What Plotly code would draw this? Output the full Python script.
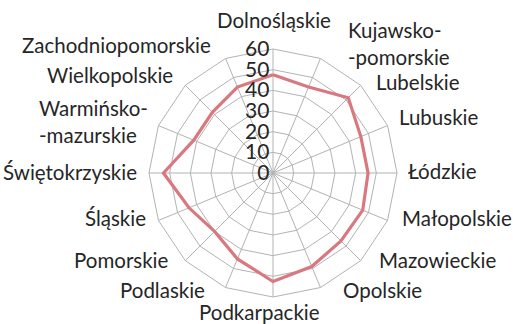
import plotly.graph_objects as go

# Voivodeships, clockwise from the top
regions = [
    "Dolnośląskie", "Kujawsko-<br>-pomorskie", "Lubelskie", "Lubuskie", "Łódzkie",
    "Małopolskie", "Mazowieckie", "Opolskie", "Podkarpackie", "Podlaskie",
    "Pomorskie", "Śląskie", "Świętokrzyskie", "Warmińsko-<br>-mazurskie",
    "Wielkopolskie", "Zachodniopomorskie",
]
values = [47.5, 45, 51.5, 46, 46, 47, 46.5, 49, 52.5, 45, 40, 44, 53, 41.5, 41.5, 45]
radial_ticks = [0, 10, 20, 30, 40, 50, 60]

W, H = 513, 324
FONT = "Lato"
TEXT = "#262626"
GRID = "#b3b3b3"

# label placement in pixels: (x, y, xanchor)
label_pos = [
    (274, 20, "center"), (346, 43, "left"), (374, 82, "left"), (397, 117, "left"),
    (406, 171, "left"), (400, 218, "left"), (377, 260, "left"), (341, 290, "left"),
    (259, 312, "center"), (207, 290, "right"), (170, 260, "right"), (148, 218, "right"),
    (139, 172, "right"), (150, 121, "right"), (175, 75, "right"), (213, 45, "right"),
]

fig = go.Figure()
fig.add_trace(go.Scatterpolar(
    r=values + values[:1],
    theta=regions + regions[:1],
    mode="lines",
    line=dict(color="#d9787f", width=3.2),
    hoverinfo="skip",
))

annotations = []
for name, (px, py, xa) in zip(regions, label_pos):
    annotations.append(dict(
        x=px / W, y=1 - py / H, xref="paper", yref="paper",
        text=name, showarrow=False, xanchor=xa, yanchor="middle",
        align="left", font=dict(family=FONT, size=20.5, color=TEXT),
    ))

fig.update_layout(
    width=W, height=H,
    margin=dict(l=0, r=0, t=0, b=0),
    paper_bgcolor="white",
    showlegend=False,
    annotations=annotations,
    polar=dict(
        domain=dict(x=[149 / W, 397 / W], y=[1 - 297 / H, 1 - 49 / H]),
        bgcolor="white",
        gridshape="linear",
        angularaxis=dict(
            type="category", categoryarray=regions,
            direction="clockwise", rotation=90,
            showticklabels=False, ticks="",
            showline=True, linecolor=GRID, linewidth=1,
            gridcolor=GRID, gridwidth=1,
        ),
        radialaxis=dict(
            range=[0, 60], tickvals=radial_ticks, ticktext=[str(t) for t in radial_ticks],
            angle=90, side="counterclockwise", tickangle=90,
            showline=False, ticks="",
            gridcolor=GRID, gridwidth=1,
            tickfont=dict(family=FONT, size=21, color=TEXT),
        ),
    ),
)

fig.write_html("out.html")
